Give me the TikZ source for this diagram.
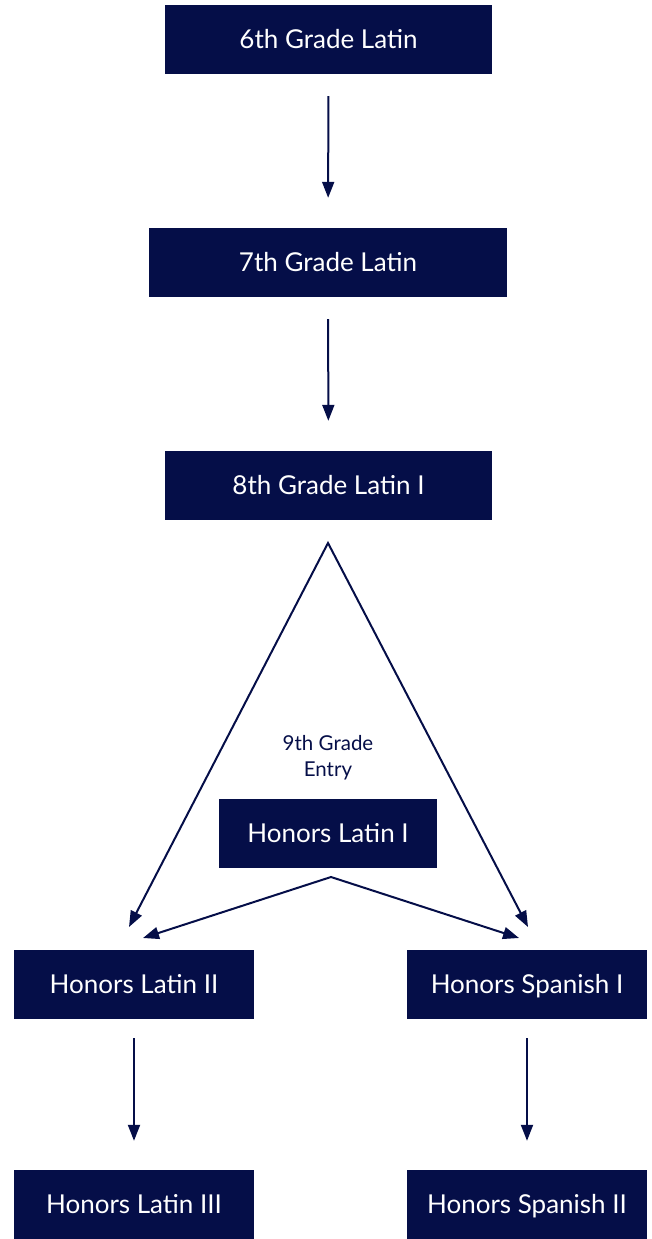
\documentclass[tikz,border=0pt]{standalone}
\usepackage{fontspec}
\setmainfont{Lato}
\usepackage{tikz}
\usetikzlibrary{arrows.meta}
\definecolor{navy}{RGB}{5,14,72}

\begin{document}
\begin{tikzpicture}[x=1pt,y=-1pt,
    course/.style={rectangle,fill=navy,text=white,minimum height=69pt,
      inner sep=0pt,text height=18.5pt,text depth=0pt,
      font=\fontsize{26}{30}\selectfont},
    link/.style={draw=navy,line width=2pt,
      -{Triangle[length=16pt,width=12pt]}},
    twoway/.style={link,line join=miter,
      {Triangle[length=16pt,width=12pt]}-{Triangle[length=16pt,width=12pt]}}]
    \useasboundingbox (0,0) rectangle (651,1239);

    \node[course,minimum width=327pt] (g6) at (328.5,39.5) {6th Grade Latin};
    \node[course,minimum width=358pt] (g7) at (328,262.5) {7th Grade Latin};
    \node[course,minimum width=327pt] (g8) at (328.5,485.5) {8th Grade Latin I};
    \node[course,minimum width=218pt] (hl1) at (328,833.5) {Honors Latin I};
    \node[course,minimum width=240pt] (hl2) at (134,984.5) {Honors Latin II};
    \node[course,minimum width=240pt] (hs1) at (527,984.5) {Honors Spanish I};
    \node[course,minimum width=240pt] (hl3) at (134,1204.5) {Honors Latin III};
    \node[course,minimum width=240pt] (hs2) at (527,1204.5) {Honors Spanish II};
    \node[text=navy,align=center,font=\fontsize{20.5}{26}\selectfont]
      (entry) at (328,758) {9th Grade\\Entry};

    \coordinate (top) at (328,543); \coordinate (tl) at (129,927);
    \coordinate (tr) at (528,927); \coordinate (v) at (331,877);
    \coordinate (vl) at (143,938); \coordinate (vr) at (519,938);

    \draw[link,shorten <=22pt,shorten >=30pt] (g6) -- (g7);
    \draw[link,shorten <=22pt,shorten >=30pt] (g7) -- (g8);
    \draw[twoway] (tl) -- (top) -- (tr);
    \draw[twoway] (vl) -- (v) -- (vr);
    \draw[link,shorten <=19pt,shorten >=29pt] (hl2) -- (hl3);
    \draw[link,shorten <=19pt,shorten >=29pt] (hs1) -- (hs2);
  \end{tikzpicture}
\end{document}
